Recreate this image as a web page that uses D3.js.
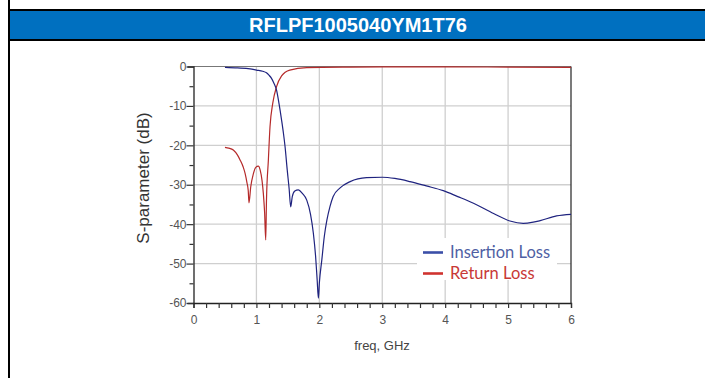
<!DOCTYPE html>
<html><head><meta charset="utf-8">
<script src="https://cdn.jsdelivr.net/npm/d3@7"></script>
<style>html,body{margin:0;padding:0;background:#fff;}svg{display:block;}</style>
</head><body>
<svg id="c" width="705" height="378"></svg>
<script>
const title = "RFLPF1005040YM1T76";
const xTicks = [0, 1, 2, 3, 4, 5, 6];
const yTicks = [0, -10, -20, -30, -40, -50, -60];
const seriesNames = ["Insertion Loss", "Return Loss"];
const insFreq = [0.5,0.7,0.9,1.0,1.1,1.16,1.2,1.24,1.28,1.32,1.36,1.40,1.43,1.455,1.49,1.52,1.545,1.57,1.61,1.667,1.73,1.8,1.86,1.905,1.94,1.965,1.985,2.0,2.04,2.08,2.12,2.17,2.22,2.33,2.49,2.75,3.0,3.2,3.44,3.7,3.97,4.2,4.45,4.77,5.03,5.24,5.4,5.51,5.77,6.0];
const insLoss = [-0.2,-0.35,-0.6,-0.9,-1.2,-1.6,-2.2,-3,-4.3,-6,-9.5,-13.6,-17,-20.3,-26.3,-31,-35.6,-33,-31.6,-31.3,-32.2,-33.9,-37.5,-42.3,-48,-54,-58.8,-55,-49,-43,-39,-35.5,-33,-30.8,-29.2,-28.2,-28.1,-28.4,-29.2,-30.3,-31.5,-33,-34.7,-37.3,-39.2,-39.8,-39.5,-39.1,-37.9,-37.5];
const retFreq = [0.5,0.56,0.633,0.7,0.74,0.79,0.82,0.85,0.87,0.882,0.91,0.95,0.99,1.03,1.06,1.09,1.11,1.13,1.148,1.16,1.19,1.216,1.26,1.32,1.40,1.53,1.8,2.5,3.0,4.0,5.0,6.0];
const retLoss = [-20.5,-20.7,-21.2,-22.5,-23.7,-25.5,-27.1,-29.5,-31.5,-34.6,-30.5,-27.3,-25.6,-25.3,-26.3,-29,-32.2,-37,-44,-33.9,-23.7,-15.3,-9.3,-5.1,-2.4,-0.9,-0.3,-0.15,-0.1,-0.1,-0.15,-0.2];

const svg = d3.select("#c");
svg.append("rect").attr("x",9).attr("y",11).attr("width",696).attr("height",28).attr("fill","#0070C0");
svg.append("line").attr("x1",8).attr("x2",705).attr("y1",10).attr("y2",10).attr("stroke","#000").attr("stroke-width",2);
svg.append("line").attr("x1",8).attr("x2",705).attr("y1",40).attr("y2",40).attr("stroke","#000").attr("stroke-width",2);
svg.append("line").attr("x1",9).attr("x2",9).attr("y1",0).attr("y2",378).attr("stroke","#000").attr("stroke-width",2);
svg.append("text").attr("x",358).attr("y",32).attr("text-anchor","middle")
  .attr("font-family","Liberation Sans, Arial, sans-serif").attr("font-weight","bold").attr("font-size",20)
  .attr("fill","#fff").text(title);

const x = d3.scaleLinear().domain([0,6]).range([193.5,571]);
const y = d3.scaleLinear().domain([0,-60]).range([66.5,303]);
const g = svg.append("g");
g.selectAll(".gx").data(xTicks.slice(1,-1)).enter().append("line")
  .attr("x1",d=>x(d)).attr("x2",d=>x(d)).attr("y1",y(0)).attr("y2",y(-60))
  .attr("stroke","#cfcfcf").attr("stroke-width",1.3);
g.selectAll(".gy").data(yTicks.slice(1,-1)).enter().append("line")
  .attr("x1",x(0)).attr("x2",x(6)).attr("y1",d=>y(d)).attr("y2",d=>y(d))
  .attr("stroke","#cfcfcf").attr("stroke-width",1.3);
g.append("line").attr("x1",x(0)).attr("x2",x(6)).attr("y1",y(0)).attr("y2",y(0)).attr("stroke","#777").attr("stroke-width",1.2);
g.append("line").attr("x1",x(6)).attr("x2",x(6)).attr("y1",y(0)).attr("y2",y(-60)).attr("stroke","#222").attr("stroke-width",1.2);

const minorX = d3.range(0,6.001,0.2);
const xAxis = d3.axisBottom(x).tickValues(minorX).tickSize(5).tickFormat(d => (Math.abs(d - Math.round(d)) < 1e-6) ? String(Math.round(d)) : "");
const ax = svg.append("g").attr("transform",`translate(0,${y(-60)})`).call(xAxis);
ax.select(".domain").attr("stroke","#222").attr("stroke-width",1.3);
ax.selectAll(".tick line").attr("stroke","#333").attr("stroke-width",1.2);
ax.selectAll(".tick text").attr("font-family","Liberation Sans, Arial, sans-serif").attr("font-size",12).attr("fill","#555").attr("dy","1.05em");

const minorY = d3.range(0,-60.001,-5);
const yAxis = d3.axisLeft(y).tickValues(minorY).tickSize(6).tickFormat(d => (d % 10 === 0) ? String(d) : "");
const ay = svg.append("g").attr("transform",`translate(${x(0)},0)`).call(yAxis);
ay.select(".domain").attr("stroke","#222").attr("stroke-width",1.3);
ay.selectAll(".tick line").attr("stroke","#333").attr("stroke-width",1.2).attr("x2",d => d % 10 === 0 ? -7 : -4);
ay.selectAll(".tick text").attr("font-family","Liberation Sans, Arial, sans-serif").attr("font-size",12).attr("fill","#555").attr("x",-7);

const line = d3.line().x(d=>x(d[0])).y(d=>y(d[1])).curve(d3.curveMonotoneX);
const insData = insFreq.map((f,i)=>[f,insLoss[i]]);
const retData = retFreq.map((f,i)=>[f,retLoss[i]]);
svg.append("path").datum(retData).attr("d",line).attr("fill","none").attr("stroke","#b52a2a").attr("stroke-width",1.2);
svg.append("path").datum(insData).attr("d",line).attr("fill","none").attr("stroke","#1f237f").attr("stroke-width",1.2);

svg.append("text").attr("transform","translate(149,178) rotate(-90)").attr("text-anchor","middle")
  .attr("font-family","Liberation Sans, Arial, sans-serif").attr("font-size",17).attr("fill","#333").text("S-parameter (dB)");
svg.append("text").attr("x",382).attr("y",350).attr("text-anchor","middle")
  .attr("font-family","Liberation Sans, Arial, sans-serif").attr("font-size",13).attr("fill","#444").text("freq, GHz");

const lg = svg.append("g");
lg.append("rect").attr("x",417).attr("y",238).attr("width",140).attr("height",42).attr("fill","#fff");
const legColors = ["#3b4fa8","#d0332f"];
const textColors = ["#4f5fa4","#c83836"];
seriesNames.forEach((n,i)=>{
  const yy = 252.5 + i*21;
  lg.append("line").attr("x1",423).attr("x2",443).attr("y1",yy).attr("y2",yy).attr("stroke",legColors[i]).attr("stroke-width",2.6);
  lg.append("text").attr("x",450).attr("y",yy+5.5).attr("font-family","Lato, Open Sans, sans-serif").attr("font-size",16.5).attr("fill",textColors[i]).text(n);
});
</script>
</body></html>
